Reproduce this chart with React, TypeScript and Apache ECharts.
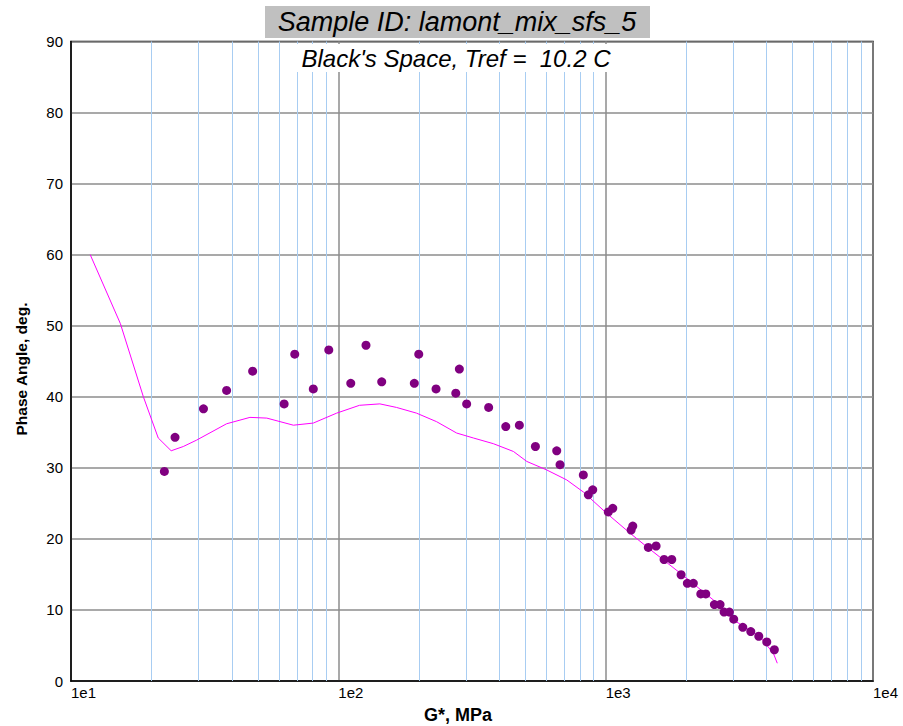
import React, { useEffect, useRef } from "react";
import * as echarts from "echarts";

const lineG = [11.8, 15.3, 18.65, 21.2, 23.7, 26.3, 29.5, 38.2, 46.7, 54, 67.9, 80.6, 98.6, 120, 143, 165, 196, 233, 277, 320, 380, 452, 507, 602, 715, 825, 1009, 1234, 1424, 1897, 2529, 3005, 3782, 4240, 4385];
const linePhase = [60.0, 50.3, 40.0, 34.2, 32.4, 33.0, 33.9, 36.2, 37.1, 37.0, 36.0, 36.3, 37.7, 38.8, 39.0, 38.5, 37.7, 36.5, 34.9, 34.2, 33.4, 32.3, 30.9, 29.7, 28.3, 26.6, 23.6, 20.8, 18.9, 15.2, 11.4, 8.6, 6.2, 3.9, 2.5];

const ptG = [22.35, 24.5, 31.3, 38.2, 47.8, 62.7, 68.7, 80.6, 92.1, 111.3, 126.9, 145.3, 192.4, 199.9, 232, 275, 283.6, 302, 365, 423, 475.5, 546, 656, 675, 825, 861.6, 894.6, 1023, 1063, 1245, 1263, 1444, 1544, 1654, 1767, 1915, 2021, 2128, 2269, 2369, 2551, 2679, 2773, 2903, 3013, 3258, 3490, 3739, 4005, 4276];
const ptPhase = [29.5, 34.3, 38.3, 40.9, 43.6, 39.0, 46.0, 41.1, 46.6, 41.9, 47.25, 42.1, 41.9, 46.0, 41.1, 40.5, 43.9, 39.0, 38.5, 35.8, 36.0, 33.0, 32.4, 30.45, 29.0, 26.2, 26.9, 23.8, 24.3, 21.25, 21.8, 18.8, 19.0, 17.1, 17.1, 14.95, 13.75, 13.75, 12.25, 12.25, 10.75, 10.75, 9.7, 9.7, 8.7, 7.55, 6.95, 6.3, 5.5, 4.4];

const minorGrid = [20, 30, 40, 50, 60, 70, 80, 90, 200, 300, 400, 500, 600, 700, 800, 900, 2000, 3000, 4000, 5000, 6000, 7000, 8000, 9000];

const titleText = "Sample ID: lamont_mix_sfs_5";
const subtitleText = "Black's Space, Tref =  10.2 C";
const xName = "G*, MPa";
const yName = "Phase Angle, deg.";

const FONT = "'Liberation Sans', Arial, sans-serif";

export default function App() {
  const ref = useRef<HTMLDivElement>(null);
  useEffect(() => {
    if (!ref.current) return;
    const chart = echarts.init(ref.current, null, { renderer: "svg" });
    chart.setOption({
      animation: false,
      backgroundColor: "#fff",
      grid: {
        left: 71,
        top: 41.5,
        right: 30,
        bottom: 45,
        show: true,
        borderColor: "#000",
        borderWidth: 1.5,
        backgroundColor: "#fff",
      },
      xAxis: {
        type: "log",
        logBase: 10,
        min: 10,
        max: 10000,
        axisLine: { show: true, lineStyle: { color: "#000", width: 1.5 } },
        axisTick: { show: false },
        axisLabel: {
          color: "#000",
          fontSize: 15,
          fontFamily: FONT,
          align: "left",
          margin: 4,
          formatter: (v: number) => "1e" + Math.round(Math.log10(v)),
        },
        splitLine: { show: true, lineStyle: { color: "#8c8c8c", width: 1.5 } },
      },
      yAxis: {
        type: "value",
        min: 0,
        max: 90,
        interval: 10,
        axisLine: { show: true, lineStyle: { color: "#000", width: 1.5 } },
        axisTick: { show: false },
        axisLabel: { color: "#000", fontSize: 15, fontFamily: FONT, margin: 8 },
        splitLine: { show: true, lineStyle: { color: "#8c8c8c", width: 1.5 } },
      },
      graphic: [
        {
          type: "rect",
          z: 100,
          shape: { x: 265, y: 6, width: 385, height: 32 },
          style: { fill: "#c0c0c0" },
        },
        {
          type: "text",
          z: 101,
          x: 457,
          y: 22,
          style: {
            text: titleText,
            fontSize: 27,
            fontStyle: "italic",
            fontFamily: FONT,
            fill: "#000",
            align: "center",
            verticalAlign: "middle",
          },
        },
        {
          type: "rect",
          z: 100,
          shape: { x: 295, y: 44, width: 322, height: 28 },
          style: { fill: "#fff" },
        },
        {
          type: "text",
          z: 101,
          x: 456,
          y: 58,
          style: {
            text: subtitleText,
            fontSize: 24,
            fontStyle: "italic",
            fontFamily: FONT,
            fill: "#000",
            align: "center",
            verticalAlign: "middle",
          },
        },
        {
          type: "text",
          z: 101,
          x: 458,
          y: 715,
          style: {
            text: xName,
            fontSize: 18,
            fontWeight: "bold",
            fontFamily: FONT,
            fill: "#000",
            align: "center",
            verticalAlign: "middle",
          },
        },
        {
          type: "text",
          z: 101,
          x: 21,
          y: 369,
          rotation: Math.PI / 2,
          style: {
            text: yName,
            fontSize: 15.5,
            fontWeight: "bold",
            fontFamily: FONT,
            fill: "#000",
            align: "center",
            verticalAlign: "middle",
          },
        },
      ],
      series: [
        {
          type: "line",
          data: lineG.map((g, i) => [g, linePhase[i]]),
          showSymbol: false,
          symbol: "none",
          lineStyle: { color: "#ff00ff", width: 1 },
          z: 3,
          markLine: {
            silent: true,
            symbol: ["none", "none"],
            label: { show: false },
            lineStyle: { color: "#a8cdf2", width: 1, type: "solid" },
            data: minorGrid.map((v) => ({ xAxis: v })),
            z: 1,
          },
        },
        {
          type: "scatter",
          data: ptG.map((g, i) => [g, ptPhase[i]]),
          symbol: "circle",
          symbolSize: 9,
          itemStyle: { color: "#800080", opacity: 1 },
          z: 4,
        },
      ],
    });
    return () => chart.dispose();
  }, []);
  return (
    <div
      ref={ref}
      style={{ position: "fixed", left: 0, top: 0, width: 903, height: 726 }}
    />
  );
}
